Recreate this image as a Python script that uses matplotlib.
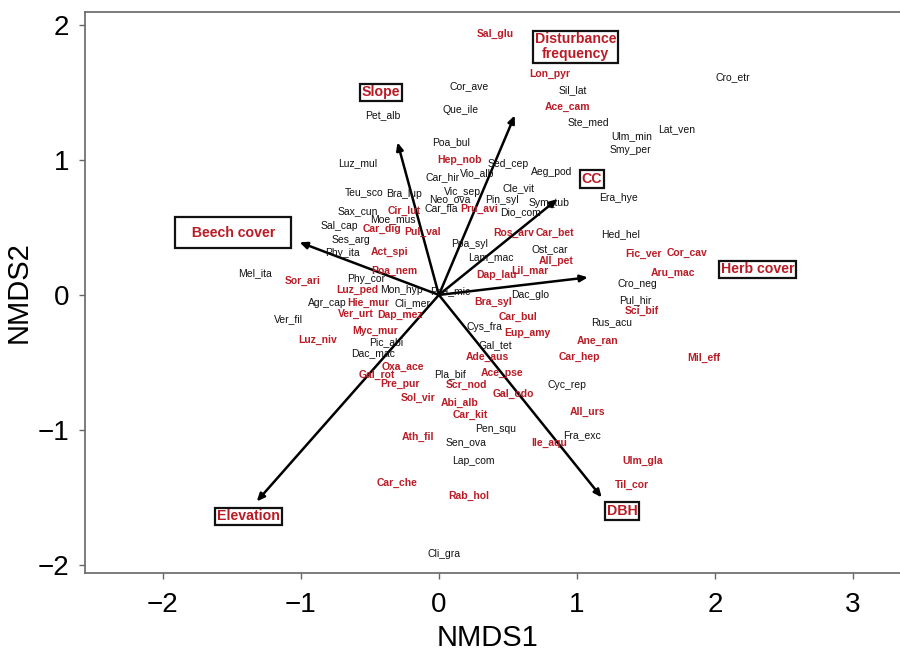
import matplotlib
matplotlib.use("Agg")
import matplotlib.pyplot as plt
from matplotlib import font_manager

# ---------------- data ----------------
black_species = ["Cro_etr", "Cor_ave", "Sil_lat", "Pet_alb", "Que_ile", "Ste_med", "Ulm_min",
                 "Lat_ven", "Smy_per", "Poa_bul", "Luz_mul", "Sed_cep", "Car_hir", "Vio_alb",
                 "Aeg_pod", "Teu_sco", "Bra_lup", "Vic_sep", "Neo_ova", "Cle_vit", "Era_hye",
                 "Pin_syl", "Sym_tub", "Sax_cun", "Car_fla", "Dio_com", "Moe_mus", "Sal_cap",
                 "Ses_arg", "Hed_hel", "Phy_ita", "Poa_syl", "Ost_car", "Lam_mac", "Mel_ita",
                 "Phy_cor", "Mon_hyp", "Poa_mic", "Dac_glo", "Cro_neg", "Agr_cap", "Cli_mer",
                 "Pul_hir", "Ver_fil", "Rus_acu", "Cys_fra", "Pic_abi", "Gal_tet", "Dac_mac",
                 "Pla_bif", "Cyc_rep", "Pen_squ", "Fra_exc", "Sen_ova", "Lap_com", "Cli_gra"]
black_x = [2.13, 0.22, 0.97, -0.41, 0.16, 1.08, 1.40,
           1.72, 1.39, 0.09, -0.59, 0.50, 0.03, 0.28,
           0.82, -0.54, -0.25, 0.17, 0.08, 0.58, 1.30,
           0.46, 0.80, -0.59, 0.02, 0.59, -0.33, -0.72,
           -0.64, 1.32, -0.70, 0.22, 0.80, 0.38, -1.33,
           -0.53, -0.27, 0.08, 0.66, 1.44, -0.81, -0.19,
           1.42, -1.09, 1.25, 0.33, -0.38, 0.41, -0.48,
           0.08, 0.93, 0.41, 1.04, 0.20, 0.25, 0.04]
black_y = [1.61, 1.55, 1.52, 1.33, 1.37, 1.28, 1.18,
           1.23, 1.07, 1.13, 0.98, 0.97, 0.87, 0.90,
           0.91, 0.76, 0.75, 0.76, 0.71, 0.79, 0.72,
           0.70, 0.68, 0.62, 0.64, 0.61, 0.56, 0.51,
           0.41, 0.45, 0.31, 0.38, 0.34, 0.28, 0.16,
           0.12, 0.04, 0.03, 0.00, 0.08, -0.06, -0.06,
           -0.04, -0.18, -0.20, -0.24, -0.35, -0.37, -0.43,
           -0.59, -0.67, -0.99, -1.04, -1.09, -1.23, -1.92]

red_species = ["Sal_glu", "Lon_pyr", "Ace_cam", "Hep_nob", "Cir_lut", "Pru_avi", "Car_dig",
               "Pul_val", "Act_spi", "Ros_arv", "Car_bet", "Fic_ver", "Cor_cav", "Poa_nem",
               "All_pet", "Dap_lau", "Lil_mar", "Aru_mac", "Sor_ari", "Luz_ped", "Hie_mur",
               "Ver_urt", "Dap_mez", "Bra_syl", "Car_bul", "Sci_bif", "Eup_amy", "Myc_mur",
               "Luz_niv", "Ane_ran", "Ade_aus", "Car_hep", "Mil_eff", "Oxa_ace", "Gal_rot",
               "Ace_pse", "Pre_pur", "Scr_nod", "Gal_odo", "Sol_vir", "Abi_alb", "All_urs",
               "Car_kit", "Ath_fil", "Ile_aqu", "Ulm_gla", "Car_che", "Til_cor", "Rab_hol"]
red_x = [0.41, 0.80, 0.93, 0.15, -0.25, 0.29, -0.41,
         -0.12, -0.36, 0.54, 0.84, 1.48, 1.80, -0.32,
         0.85, 0.42, 0.66, 1.70, -0.99, -0.59, -0.51,
         -0.60, -0.28, 0.39, 0.57, 1.47, 0.64, -0.46,
         -0.88, 1.15, 0.35, 1.02, 1.92, -0.26, -0.45,
         0.46, -0.28, 0.20, 0.54, -0.15, 0.15, 1.08,
         0.23, -0.15, 0.80, 1.48, -0.30, 1.40, 0.22]
red_y = [1.93, 1.64, 1.39, 1.00, 0.62, 0.64, 0.49,
         0.47, 0.32, 0.46, 0.46, 0.30, 0.31, 0.18,
         0.25, 0.15, 0.18, 0.16, 0.10, 0.04, -0.06,
         -0.14, -0.15, -0.05, -0.16, -0.12, -0.28, -0.27,
         -0.33, -0.34, -0.46, -0.46, -0.47, -0.53, -0.59,
         -0.58, -0.66, -0.67, -0.73, -0.76, -0.80, -0.87,
         -0.89, -1.05, -1.10, -1.23, -1.39, -1.41, -1.49]

env_names = ["Slope", "Disturbance\nfrequency", "CC", "Herb cover", "DBH", "Elevation", "Beech cover"]
env_x = [-0.30, 0.55, 0.86, 1.08, 1.18, -1.32, -1.01]
env_y = [1.13, 1.33, 0.71, 0.13, -1.50, -1.53, 0.39]
env_label_x = [-0.42, 0.99, 1.11, 2.31, 1.33, -1.38, -1.49]
env_label_y = [1.50, 1.84, 0.86, 0.19, -1.60, -1.64, 0.46]

# ---------------- style ----------------
avail = {f.name for f in font_manager.fontManager.ttflist}
axis_font = "Liberation Sans Narrow" if "Liberation Sans Narrow" in avail else "Liberation Sans"
text_font = "Liberation Sans"
RED = "#BA1C26"

fig = plt.figure(figsize=(9, 6.51), dpi=100)
ax = fig.add_axes([0.0944, 0.1198, 0.9222, 0.8618])
ax.set_xlim(-2.565, 3.45)
ax.set_ylim(-2.06, 2.096)

# arrows
for ex, ey in zip(env_x, env_y):
    ax.annotate("", xy=(ex, ey), xytext=(0, 0),
                arrowprops=dict(arrowstyle="-|>,head_length=0.45,head_width=0.2",
                                color="black", lw=1.8, shrinkA=0, shrinkB=0))

# species labels
for name, x, y in zip(black_species, black_x, black_y):
    ax.text(x, y, name, ha="center", va="center", fontsize=7.5,
            family=text_font, color="#111111")
for name, x, y in zip(red_species, red_x, red_y):
    ax.text(x, y, name, ha="center", va="center", fontsize=7.5,
            family=text_font, color=RED, fontweight="bold")

# environmental labels in boxes
for name, x, y in zip(env_names, env_label_x, env_label_y):
    if name == "Beech cover":
        label = "  " + name + "  "
        pad = 0.6
    else:
        label = name
        pad = 0.12
    ax.text(x, y, label, ha="center", va="center", fontsize=10.2,
            family=text_font, color=RED, fontweight="bold", linespacing=1.05,
            bbox=dict(boxstyle=f"square,pad={pad}", fc="white", ec="#111111", lw=1.6))

# axes
ax.set_xticks([-2, -1, 0, 1, 2, 3])
ax.set_yticks([-2, -1, 0, 1, 2])
for s in ["left", "bottom", "top"]:
    ax.spines[s].set_color("#666666")
    ax.spines[s].set_linewidth(1.2)
ax.spines["right"].set_visible(False)
ax.tick_params(axis="both", direction="out", length=4.5, width=1.0, color="#666666",
               labelsize=20, labelcolor="black")
ax.tick_params(axis="x", pad=9)
ax.tick_params(axis="y", pad=7)
for lab in ax.get_xticklabels() + ax.get_yticklabels():
    lab.set_family(axis_font)

ax.set_xlabel("NMDS1", fontsize=21, family=axis_font)
ax.set_ylabel("NMDS2", fontsize=21, family=axis_font)
ax.xaxis.set_label_coords(0.4855, -0.091)
ax.yaxis.set_label_coords(-0.063, 0.5)

fig.savefig("out.png", dpi=100)
